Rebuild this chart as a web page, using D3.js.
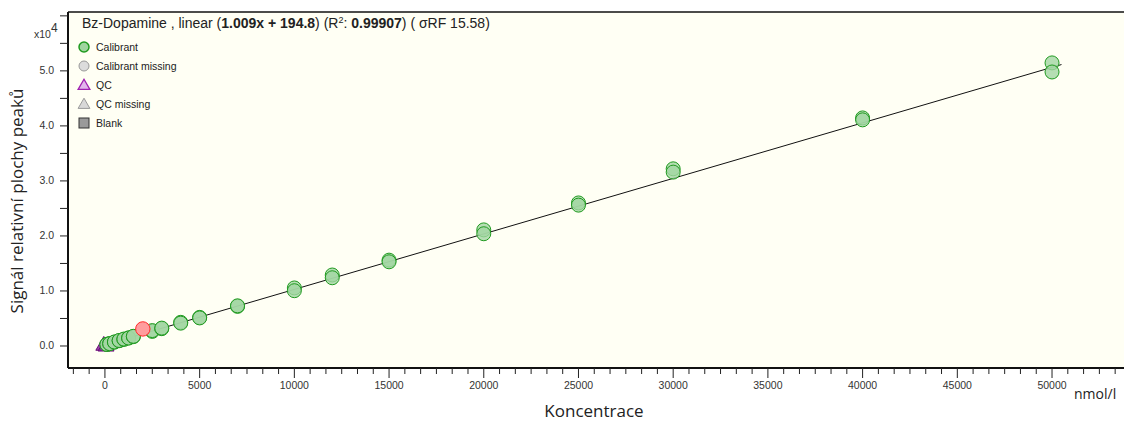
<!DOCTYPE html>
<html>
<head>
<meta charset="utf-8">
<script src="https://cdn.jsdelivr.net/npm/d3@7"></script>
<style>
  html, body { margin: 0; padding: 0; background: #ffffff; }
  svg { display: block; }
</style>
</head>
<body>
<svg id="chart" width="1124" height="421"></svg>
<script>
// Calibration points: concentration (nmol/l) and relative peak-area signal
const calConc = [100, 100, 250, 250, 500, 500, 750, 750, 1000, 1000, 1250, 1250, 1500, 1500,
                 2500, 2500, 3000, 3000, 4000, 4000, 5000, 5000, 7000, 7000,
                 10000, 10000, 12000, 12000, 15000, 15000, 20000, 20000, 25000, 25000,
                 30000, 30000, 40000, 40000, 50000, 50000];
const calSignal = [300, 280, 450, 420, 700, 730, 960, 1000, 1200, 1260, 1480, 1440, 1700, 1760,
                   2650, 2800, 3150, 3250, 4300, 4150, 5200, 5100, 7200, 7300,
                   10550, 10050, 12900, 12400, 15600, 15300, 21100, 20400, 26000, 25600,
                   32200, 31600, 41450, 41100, 51450, 49800];
// Excluded calibrant
const outConc = [2000];
const outSignal = [3100];
// QC samples
const qcConc = [-60, 60];
const qcSignal = [60, -80];
// Regression: y = slope * x + intercept
const slope = 1.009;
const intercept = 194.8;
const fitRange = [0, 50500];

const xTicks = [0, 5000, 10000, 15000, 20000, 25000, 30000, 35000, 40000, 45000, 50000];
const yTicks = [0, 10000, 20000, 30000, 40000, 50000];
const legendLabels = ["Calibrant", "Calibrant missing", "QC", "QC missing", "Blank"];

const smallFont = "'Liberation Sans', Arial, sans-serif";
const bigFont = "'Open Sans', sans-serif";

const svg = d3.select("#chart");
const plot = { left: 68, top: 12, right: 1124, bottom: 368 };

const x = d3.scaleLinear().domain([-1950, 53800]).range([plot.left, plot.right]);
const y = d3.scaleLinear().domain([-4000, 60700]).range([plot.bottom, plot.top]);

// plot background
svg.append("rect")
  .attr("x", plot.left).attr("y", plot.top)
  .attr("width", plot.right - plot.left).attr("height", plot.bottom - plot.top)
  .attr("fill", "#fffff4");

// top frame line
svg.append("line").attr("x1", plot.left).attr("x2", plot.right)
  .attr("y1", plot.top).attr("y2", plot.top)
  .attr("stroke", "#111").attr("stroke-width", 1.5);

// x axis: labelled majors + minor ticks
const xMinor = d3.range(-5000 / 3, 53800, 5000 / 6);
const xAxisG = svg.append("g").attr("transform", `translate(0,${plot.bottom})`);
xAxisG.append("line").attr("x1", plot.left).attr("x2", plot.right)
  .attr("stroke", "#111").attr("stroke-width", 2);
xAxisG.selectAll("line.minor").data(xMinor).join("line")
  .attr("class", "minor")
  .attr("x1", d => x(d)).attr("x2", d => x(d))
  .attr("y1", 0).attr("y2", d => Math.abs(Math.round(d) % 5000) === 0 ? 10 : 6)
  .attr("stroke", "#222").attr("stroke-width", 1);
xAxisG.selectAll("text").data(xTicks).join("text")
  .attr("x", d => x(d)).attr("y", 21)
  .attr("text-anchor", "middle")
  .attr("font-family", smallFont)
  .attr("font-size", 10.5).attr("fill", "#333")
  .text(d => d);

// y axis
const yMinor = d3.range(0, 60001, 5000);
const yAxisG = svg.append("g").attr("transform", `translate(${plot.left},0)`);
yAxisG.append("line").attr("y1", plot.top).attr("y2", plot.bottom)
  .attr("stroke", "#111").attr("stroke-width", 2);
yAxisG.selectAll("line.tick").data(yMinor).join("line")
  .attr("class", "tick")
  .attr("x1", -8).attr("x2", 0)
  .attr("y1", d => y(d)).attr("y2", d => y(d))
  .attr("stroke", "#222").attr("stroke-width", 1);
yAxisG.selectAll("text").data(yTicks).join("text")
  .attr("x", -14).attr("y", d => y(d) + 3.5)
  .attr("text-anchor", "end")
  .attr("font-family", smallFont)
  .attr("font-size", 10.5).attr("fill", "#333")
  .text(d => d3.format(".1f")(d / 10000));

// exponent marker
const expText = svg.append("text").attr("x", 34).attr("y", 38)
  .attr("font-family", smallFont)
  .attr("font-size", 10.5).attr("fill", "#333");
expText.append("tspan").text("x10");
expText.append("tspan").attr("dy", -6).attr("font-size", 12).text("4");

// axis titles
svg.append("text").attr("x", 594).attr("y", 417)
  .attr("text-anchor", "middle")
  .attr("font-family", bigFont).attr("font-size", 17).attr("fill", "#222")
  .text("Koncentrace");
svg.append("text").attr("x", 1074).attr("y", 399)
  .attr("font-family", bigFont).attr("font-size", 14).attr("fill", "#222")
  .text("nmol/l");
svg.append("text")
  .attr("transform", "translate(23,201) rotate(-90)")
  .attr("text-anchor", "middle")
  .attr("font-family", bigFont).attr("font-size", 17).attr("fill", "#222")
  .text("Signál relativní plochy peaků");

// regression line
svg.append("line")
  .attr("x1", x(fitRange[0])).attr("y1", y(slope * fitRange[0] + intercept))
  .attr("x2", x(fitRange[1])).attr("y2", y(slope * fitRange[1] + intercept))
  .attr("stroke", "#111").attr("stroke-width", 1);

// QC points
const tri = d3.symbol().type(d3.symbolTriangle).size(110);
svg.append("g").selectAll("path").data(qcConc.map((c, i) => [c, qcSignal[i]])).join("path")
  .attr("d", tri)
  .attr("transform", d => `translate(${x(d[0])},${y(d[1])})`)
  .attr("fill", "#8a2a9a").attr("fill-opacity", 0.85)
  .attr("stroke", "#6a0a7a").attr("stroke-width", 1);

// calibrant points
svg.append("g").selectAll("circle").data(calConc.map((c, i) => [c, calSignal[i]])).join("circle")
  .attr("cx", d => x(d[0])).attr("cy", d => y(d[1]))
  .attr("r", 7)
  .attr("fill", "#a2d6a2").attr("fill-opacity", 0.8)
  .attr("stroke", "#1f9a1f").attr("stroke-width", 1);

// excluded calibrant
svg.append("g").selectAll("circle").data(outConc.map((c, i) => [c, outSignal[i]])).join("circle")
  .attr("cx", d => x(d[0])).attr("cy", d => y(d[1]))
  .attr("r", 7.2)
  .attr("fill", "#ff9d9d")
  .attr("stroke", "#ff2a2a").attr("stroke-width", 1);

// header formula
const head = svg.append("text").attr("x", 82).attr("y", 28)
  .attr("font-family", smallFont)
  .attr("font-size", 14).attr("fill", "#222");
head.append("tspan").text("Bz-Dopamine , linear (");
head.append("tspan").attr("font-weight", "bold").text(`${slope.toFixed(3)}x + ${intercept.toFixed(1)}`);
head.append("tspan").text(") (R");
head.append("tspan").attr("dy", -5).attr("font-size", 9).text("2");
head.append("tspan").attr("dy", 5).text(": ");
head.append("tspan").attr("font-weight", "bold").text("0.99907");
head.append("tspan").text(")   ( σRF  15.58)");

// legend
const legend = svg.append("g").attr("transform", "translate(84,47)");
const rowH = 19;
const items = legend.selectAll("g").data(legendLabels).join("g")
  .attr("transform", (d, i) => `translate(0,${i * rowH})`);
items.each(function (d, i) {
  const g = d3.select(this);
  if (i === 0) {
    g.append("circle").attr("r", 5).attr("fill", "#9fd49f").attr("stroke", "#1f9a1f").attr("stroke-width", 1.5);
  } else if (i === 1) {
    g.append("circle").attr("r", 5).attr("fill", "#dcdcdc").attr("stroke", "#999").attr("stroke-width", 1);
  } else if (i === 2) {
    g.append("path").attr("d", d3.symbol().type(d3.symbolTriangle).size(60))
      .attr("transform", "translate(0,1)")
      .attr("fill", "#e2b6ec").attr("stroke", "#a020b0").attr("stroke-width", 1.3);
  } else if (i === 3) {
    g.append("path").attr("d", d3.symbol().type(d3.symbolTriangle).size(60))
      .attr("transform", "translate(0,1)")
      .attr("fill", "#d8d8d8").attr("stroke", "#999").attr("stroke-width", 1);
  } else {
    g.append("rect").attr("x", -5).attr("y", -5).attr("width", 10).attr("height", 10)
      .attr("fill", "#9a9a9a").attr("stroke", "#333").attr("stroke-width", 1);
  }
  g.append("text").attr("x", 12).attr("y", 4)
    .attr("font-family", smallFont)
    .attr("font-size", 10.5).attr("fill", "#222").text(d);
});
</script>
</body>
</html>
